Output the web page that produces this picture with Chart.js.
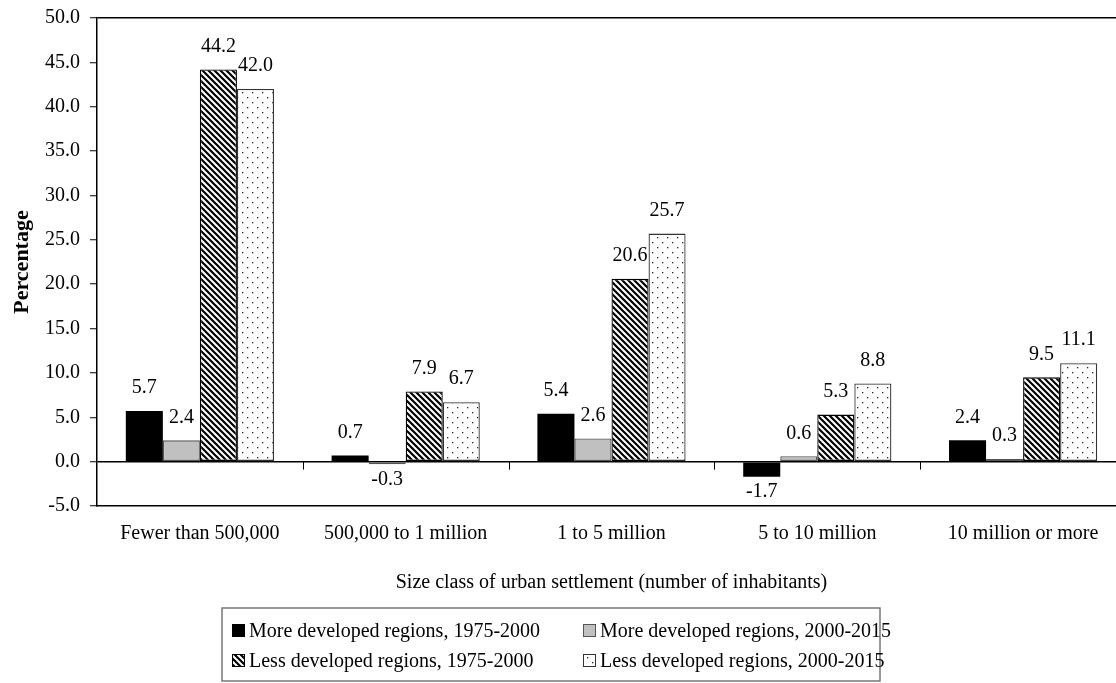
<!DOCTYPE html>
<html>
<head>
<meta charset="utf-8">
<script src="https://cdn.jsdelivr.net/npm/chart.js@4.4.0/dist/chart.umd.min.js"></script>
<style>
  html, body { margin: 0; padding: 0; background: #fff; overflow: hidden; }
  #wrap { width: 1126px; height: 683px; position: relative; }
</style>
</head>
<body>
<div id="wrap"><canvas id="chart"></canvas></div>
<script>
// ---- data ----
const categories = ["Fewer than 500,000", "500,000 to 1 million", "1 to 5 million", "5 to 10 million", "10 million or more"];
const seriesNames = [
  "More developed regions, 1975-2000",
  "More developed regions, 2000-2015",
  "Less developed regions, 1975-2000",
  "Less developed regions, 2000-2015"
];
const moreDev7500 = [5.7, 0.7, 5.4, -1.7, 2.4];
const moreDev0015 = [2.4, -0.3, 2.6, 0.6, 0.3];
const lessDev7500 = [44.2, 7.9, 20.6, 5.3, 9.5];
const lessDev0015 = [42.0, 6.7, 25.7, 8.8, 11.1];
const yTicks = [-5, 0, 5, 10, 15, 20, 25, 30, 35, 40, 45, 50];

const FONT = "'Liberation Serif', 'Times New Roman', serif";

// ---- fill patterns ----
function hatchPattern() {
  const c = document.createElement("canvas");
  c.width = 6; c.height = 6;
  const g = c.getContext("2d");
  g.fillStyle = "#fff"; g.fillRect(0, 0, 6, 6);
  g.strokeStyle = "#000"; g.lineWidth = 2.2;
  g.beginPath();
  g.moveTo(-1, -1); g.lineTo(7, 7);
  g.moveTo(-7, -1); g.lineTo(1, 7);
  g.moveTo(5, -1); g.lineTo(13, 7);
  g.stroke();
  return g.createPattern(c, "repeat");
}
function dotPattern() {
  const c = document.createElement("canvas");
  c.width = 10; c.height = 10;
  const g = c.getContext("2d");
  g.fillStyle = "#fff"; g.fillRect(0, 0, 10, 10);
  g.fillStyle = "#222";
  g.fillRect(2, 2, 1.3, 1.3);
  g.fillRect(7, 7, 1.3, 1.3);
  return g.createPattern(c, "repeat");
}

const fills = ["#000", "#c0c0c0", hatchPattern(), dotPattern()];
const borders = ["#000", "#555", "#000", "#333"];
const allSeries = [moreDev7500, moreDev0015, lessDev7500, lessDev0015];

const datasets = allSeries.map((vals, i) => ({
  label: seriesNames[i],
  data: vals,
  backgroundColor: fills[i],
  borderColor: borders[i],
  borderWidth: i === 0 ? 0 : 1.3,
  borderSkipped: false,
  categoryPercentage: 0.72,
  barPercentage: 1.0
}));

// value labels, category ticks and legend box
const extras = {
  id: "extras",
  afterDatasetsDraw(chart) {
    const ctx = chart.ctx;
    ctx.save();
    ctx.fillStyle = "#000";
    ctx.font = "20px " + FONT;
    ctx.textAlign = "center";
    ctx.textBaseline = "middle";
    chart.data.datasets.forEach((ds, i) => {
      chart.getDatasetMeta(i).data.forEach((bar, j) => {
        const v = ds.data[j];
        const y = v >= 0 ? bar.y - 23 : bar.y + 15;
        ctx.fillText(v.toFixed(1), bar.x, y);
      });
    });
    ctx.restore();
  },
  afterDraw(chart) {
    const ctx = chart.ctx;
    const xs = chart.scales.x, ys = chart.scales.y;
    const y0 = ys.getPixelForValue(0);
    const step = (xs.right - xs.left) / categories.length;
    ctx.save();
    ctx.strokeStyle = "#000";
    ctx.lineWidth = 1;
    for (let i = 1; i < categories.length; i++) {
      const x = Math.round(xs.left + i * step) + 0.5;
      ctx.beginPath();
      ctx.moveTo(x, y0);
      ctx.lineTo(x, y0 + 8);
      ctx.stroke();
    }

    // legend
    const bx = 222, by = 608, bw = 658, bh = 73;
    ctx.strokeStyle = "#777";
    ctx.lineWidth = 1.5;
    ctx.strokeRect(bx, by, bw, bh);
    const cols = [232, 583];
    const rows = [631, 661];
    ctx.font = "20px " + FONT;
    ctx.textAlign = "left";
    ctx.textBaseline = "middle";
    seriesNames.forEach((name, i) => {
      const x = cols[i % 2], y = rows[Math.floor(i / 2)];
      ctx.fillStyle = fills[i];
      ctx.fillRect(x, y - 7, 13, 13);
      ctx.strokeStyle = borders[i];
      ctx.lineWidth = 1;
      ctx.strokeRect(x + 0.5, y - 6.5, 12, 12);
      ctx.fillStyle = "#000";
      ctx.fillText(name, x + 17, y + 1);
    });
    ctx.restore();
  }
};

new Chart("chart", {
  type: "bar",
  data: { labels: categories, datasets: datasets },
  plugins: [extras],
  options: {
    responsive: true,
    maintainAspectRatio: false,
    animation: false,
    layout: { padding: { top: 16, right: 0, bottom: 73, left: 0 } },
    plugins: {
      legend: { display: false },
      tooltip: { enabled: false }
    },
    scales: {
      x: {
        afterFit: (s) => { s.height = 104; },
        grid: { display: false, drawTicks: false },
        border: { display: true, color: "#000", width: 1.5 },
        ticks: { color: "#000", padding: 16, maxRotation: 0, autoSkip: false, font: { family: FONT, size: 20 } },
        title: {
          display: true,
          text: "Size class of urban settlement (number of inhabitants)",
          color: "#000",
          font: { family: FONT, size: 20 },
          padding: { top: 0, bottom: 15 }
        }
      },
      y: {
        min: yTicks[0],
        max: yTicks[yTicks.length - 1],
        afterFit: (s) => { s.width = 97; },
        afterBuildTicks: (s) => { s.ticks = yTicks.map(v => ({ value: v })); },
        grid: {
          color: (c) => (c.tick && (c.tick.value === 0 || c.tick.value === 50)) ? "#000" : "rgba(0,0,0,0)",
          lineWidth: 1.5,
          tickColor: "#000",
          tickLength: 7,
          tickWidth: 1
        },
        border: { display: true, color: "#000", width: 1.5 },
        ticks: {
          color: "#000",
          padding: 10,
          font: { family: FONT, size: 20, lineHeight: 0.8 },
          callback: (v) => Number(v).toFixed(1)
        },
        title: {
          display: true,
          text: "Percentage",
          color: "#000",
          font: { family: FONT, size: 22, weight: "bold" },
          padding: { top: 9, bottom: 0 }
        }
      }
    }
  }
});
</script>
</body>
</html>
